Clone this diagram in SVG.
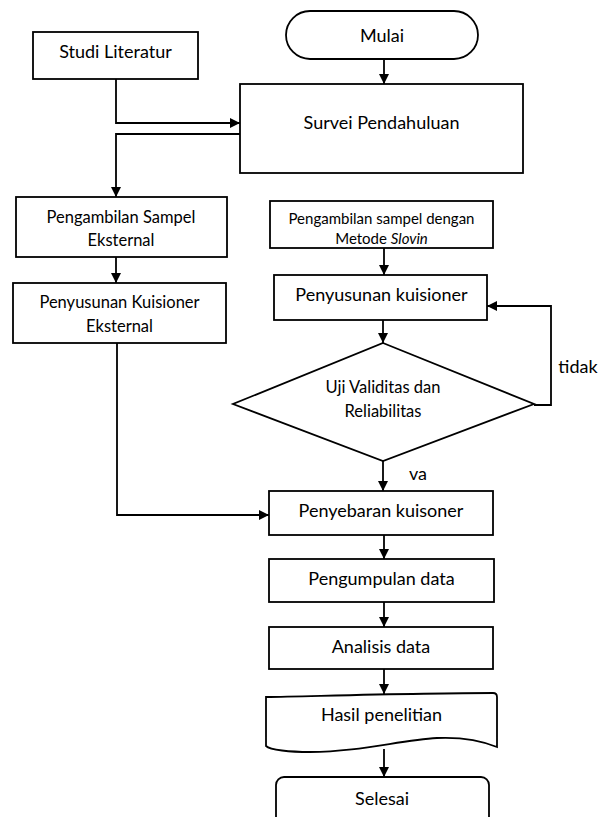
<svg xmlns="http://www.w3.org/2000/svg" width="600" height="817" viewBox="0 0 600 817">
<style>
.box{fill:#fff;stroke:#000;stroke-width:1.8}
.t{font-family:Lato,"Liberation Sans",sans-serif;fill:#000;text-anchor:middle}
.l{font-size:18px}
.m{font-size:16.5px}
.s{font-size:15px}
.c{fill:none;stroke:#000;stroke-width:1.8}
</style>
<defs>
<marker id="ah" markerUnits="userSpaceOnUse" markerWidth="10" markerHeight="10" refX="10" refY="5" orient="auto">
<path d="M0,0 L10,5 L0,10 Z" fill="#000"/>
</marker>
</defs>
<rect width="600" height="817" fill="#fff"/>
<g id="connectors">
<path class="c" d="M116,79 V123 H240" marker-end="url(#ah)"/>
<path class="c" d="M240,134 H116 V197" marker-end="url(#ah)"/>
<path class="c" d="M384,59 V84" marker-end="url(#ah)"/>
<path class="c" d="M116,257 V283" marker-end="url(#ah)"/>
<path class="c" d="M117,343 V515 H269" marker-end="url(#ah)"/>
<path class="c" d="M384,248 V275" marker-end="url(#ah)"/>
<path class="c" d="M383,320 V343" marker-end="url(#ah)"/>
<path class="c" d="M383,461 V491" marker-end="url(#ah)"/>
<path class="c" d="M534,405 H551 V306 H487" marker-end="url(#ah)"/>
<path class="c" d="M384,535 V559" marker-end="url(#ah)"/>
<path class="c" d="M384,602 V627" marker-end="url(#ah)"/>
<path class="c" d="M384,669 V694" marker-end="url(#ah)"/>
<path class="c" d="M384,749 V777" marker-end="url(#ah)"/>
<text class="t l" x="578" y="373">tidak</text>
<text class="t l" x="418" y="480">va</text>
</g>
<g id="mulai">
<rect class="box" x="286" y="11" width="192" height="48" rx="24"/>
<text class="t l" x="382" y="42">Mulai</text>
</g>
<g id="studi">
<rect class="box" x="33" y="32" width="165" height="47"/>
<text class="t l" x="115.5" y="58">Studi Literatur</text>
</g>
<g id="survei">
<rect class="box" x="240" y="84" width="283" height="89"/>
<text class="t l" x="381.5" y="129">Survei Pendahuluan</text>
</g>
<g id="sampel-eksternal">
<rect class="box" x="16" y="197" width="211" height="60"/>
<text class="t m" x="121" y="223">Pengambilan Sampel</text>
<text class="t m" x="121" y="246">Eksternal</text>
</g>
<g id="slovin">
<rect class="box" x="270" y="201" width="223" height="47"/>
<text class="t s" x="381.5" y="224">Pengambilan sampel dengan</text>
<text class="t s" x="381.5" y="244">Metode <tspan font-style="italic">Slovin</tspan></text>
</g>
<g id="kuisioner-eksternal">
<rect class="box" x="13" y="283" width="213" height="60"/>
<text class="t m" x="119.5" y="308">Penyusunan Kuisioner</text>
<text class="t m" x="119.5" y="332">Eksternal</text>
</g>
<g id="penyusunan">
<rect class="box" x="274" y="275" width="213" height="45"/>
<text class="t l" x="381.5" y="301">Penyusunan kuisioner</text>
</g>
<g id="uji">
<polygon class="box" points="383,343 534,404 383,461 233,404"/>
<text class="t m" x="383" y="393">Uji Validitas dan</text>
<text class="t m" x="383" y="417">Reliabilitas</text>
</g>
<g id="penyebaran">
<rect class="box" x="269" y="491" width="224" height="44"/>
<text class="t l" x="381" y="517">Penyebaran kuisoner</text>
</g>
<g id="pengumpulan">
<rect class="box" x="269" y="559" width="225" height="43"/>
<text class="t l" x="381.5" y="585">Pengumpulan data</text>
</g>
<g id="analisis">
<rect class="box" x="269" y="627" width="224" height="42"/>
<text class="t l" x="381" y="653">Analisis data</text>
</g>
<g id="hasil">
<path class="box" d="M266,697 C320,696 420,693 493,693 Q497,693 497,697 L497,747 C480,740 460,737 437,738 C400,740 360,752 310,752 C290,752 270,750 266,746 Z"/>
<text class="t l" x="381.5" y="721">Hasil penelitian</text>
</g>
<g id="selesai">
<rect class="box" x="276" y="777" width="213" height="60" rx="8"/>
<text class="t l" x="382" y="805">Selesai</text>
</g>
</svg>
